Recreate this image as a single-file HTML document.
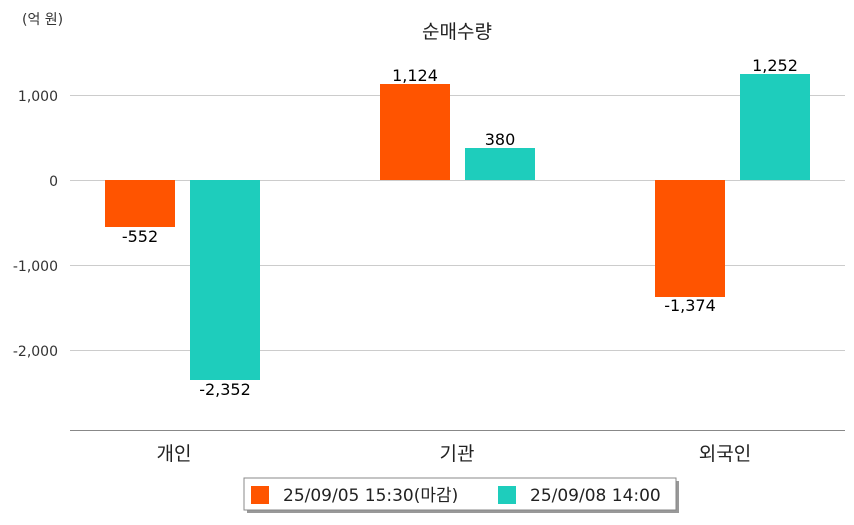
<!DOCTYPE html>
<html><head><meta charset="utf-8"><style>
body{margin:0;background:#fff;width:854px;height:520px;overflow:hidden;font-family:"Liberation Sans","Noto Sans CJK KR",sans-serif}
</style></head><body>
<svg width="854" height="520" xmlns="http://www.w3.org/2000/svg" font-family="DejaVu Sans, Noto Sans CJK KR, sans-serif">
<rect width="854" height="520" fill="#fff"/>
<text x="22" y="24" font-size="14" fill="#333">(억 원)</text>
<text x="457" y="38" font-size="19" fill="#222" text-anchor="middle">순매수량</text>
<g stroke="#ccc" stroke-width="1">
<line x1="70" y1="95.5" x2="845" y2="95.5"/>
<line x1="70" y1="180.5" x2="845" y2="180.5"/>
<line x1="70" y1="265.5" x2="845" y2="265.5"/>
<line x1="70" y1="350.5" x2="845" y2="350.5"/>
</g>
<line x1="70" y1="430.5" x2="845" y2="430.5" stroke="#888"/>
<g font-size="14" fill="#333" text-anchor="end">
<text x="58" y="101">1,000</text>
<text x="58" y="186">0</text>
<text x="58" y="271">-1,000</text>
<text x="58" y="356">-2,000</text>
</g>
<g font-size="19" fill="#222" text-anchor="middle">
<text x="174" y="460">개인</text>
<text x="457" y="460">기관</text>
<text x="725" y="460">외국인</text>
</g>
<rect x="105" y="180" width="70" height="47" fill="#ff5400"/>
<rect x="190" y="180" width="70" height="200" fill="#1ecdbc"/>
<rect x="380" y="84" width="70" height="96" fill="#ff5400"/>
<rect x="465" y="148" width="70" height="32" fill="#1ecdbc"/>
<rect x="655" y="180" width="70" height="117" fill="#ff5400"/>
<rect x="740" y="74" width="70" height="106" fill="#1ecdbc"/>
<g font-size="16" fill="#000" text-anchor="middle" font-weight="500">
<text x="140" y="242">-552</text>
<text x="225" y="395">-2,352</text>
<text x="415" y="81">1,124</text>
<text x="500" y="145">380</text>
<text x="690" y="311">-1,374</text>
<text x="775" y="71">1,252</text>
</g>
<rect x="247" y="481" width="432" height="32" fill="#999"/>
<rect x="244" y="478" width="432" height="32" fill="#fff" stroke="#888"/>
<rect x="251" y="486" width="18" height="18" fill="#ff5400"/>
<text x="283" y="501" font-size="17" fill="#222">25/09/05 15:30(마감)</text>
<rect x="498" y="486" width="18" height="18" fill="#1ecdbc"/>
<text x="530" y="501" font-size="17" fill="#222">25/09/08 14:00</text>
</svg>
</body></html>
